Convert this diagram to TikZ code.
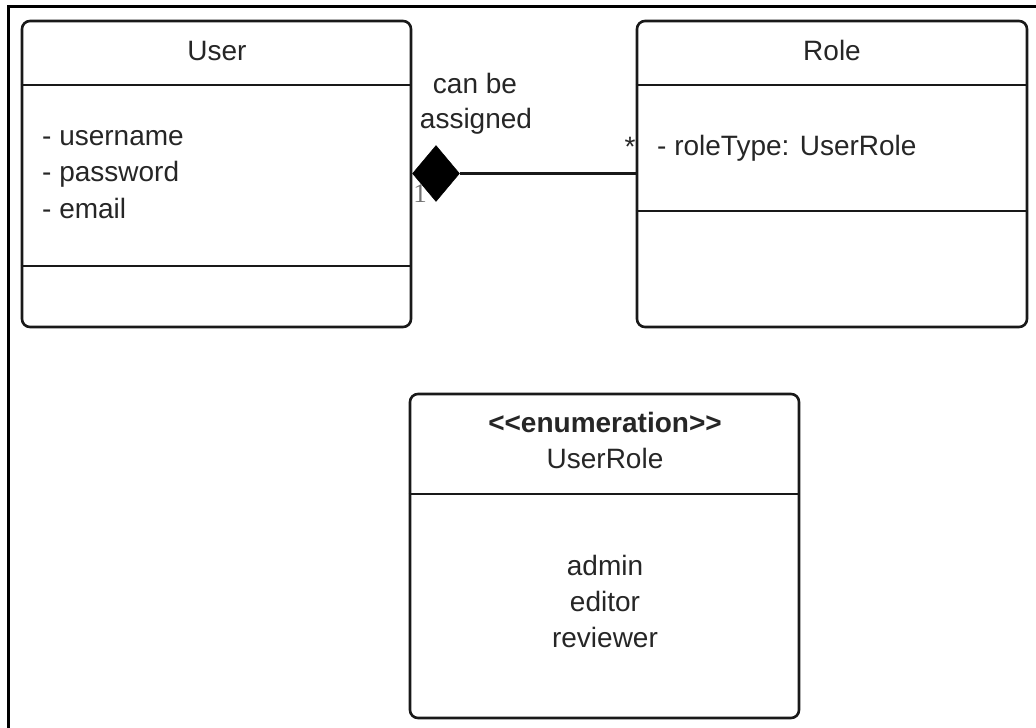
\documentclass[tikz,border=0pt]{standalone}
\usepackage{fontspec}
\setmainfont{Liberation Sans}
\newfontfamily\onefont{Liberation Serif}
\usetikzlibrary{shapes.geometric}
\definecolor{txt}{HTML}{262626}
\begin{document}
\begin{tikzpicture}[x=1pt,y=-1pt,
  box/.style={draw=black!90, line width=2.6pt, rounded corners=8pt, rectangle, inner sep=0pt},
  sep/.style={draw=black!90, line width=2.6pt},
  lbl/.style={font=\fontsize{28}{34}\selectfont, text=txt, inner sep=0pt},
  boldlbl/.style={font=\bfseries\fontsize{28}{34}\selectfont, text=txt, inner sep=0pt},
  mult/.style={font=\onefont\fontsize{27}{27}\selectfont, text=black!55, inner sep=0pt},
]
\useasboundingbox (0,0) rectangle (1036,728);
% outer frame (cropped)
\draw[line width=3pt] (8,728) -- (8,6) -- (1036,6);

% User class
\node[box, minimum width=389pt, minimum height=306pt] (user) at (216.5,174) {};
\draw[sep] (user.west |- 0,85) -- (user.east |- 0,85);
\draw[sep] (user.west |- 0,266) -- (user.east |- 0,266);
\node[lbl, anchor=base] (userT) at (217,60) {User};
\node[lbl, anchor=base west] (uA1) at (42,145) {- username};
\node[lbl, anchor=base west] (uA2) at (42,181.5) {- password};
\node[lbl, anchor=base west] (uA3) at (42,218) {- email};

% Role class
\node[box, minimum width=390pt, minimum height=306pt] (role) at (832,174) {};
\draw[sep] (role.west |- 0,85) -- (role.east |- 0,85);
\draw[sep] (role.west |- 0,211) -- (role.east |- 0,211);
\node[lbl, anchor=base] (roleT) at (832,60) {Role};
\node[lbl, anchor=base west] (rA1) at (657,155) {- roleType: UserRole};

% UserRole enumeration
\node[box, minimum width=389pt, minimum height=324pt] (enum) at (604.5,556) {};
\draw[sep] (enum.west |- 0,494) -- (enum.east |- 0,494);
\node[boldlbl, anchor=base] (enumS) at (605,432) {<{}<enumeration>{}>};
\node[lbl, anchor=base] (enumT) at (605,468) {UserRole};
\node[lbl, anchor=base] (e1) at (605,575) {admin};
\node[lbl, anchor=base] (e2) at (605,611) {editor};
\node[lbl, anchor=base] (e3) at (605,647) {reviewer};

% composition User <>-- Role
\node[diamond, fill=black, draw=black, line width=0.5pt, inner sep=0pt,
      minimum width=47pt, minimum height=56pt] (dia) at (436,173.5) {};
\draw[sep] (dia.east) -- (dia.east -| role.west);
\node[mult, anchor=base] (m1) at (420,202) {1};
\node[lbl, anchor=base] (m2) at (630,156) {*};
\node[lbl, anchor=base] (asg1) at (475,93) {can be};
\node[lbl, anchor=base] (asg2) at (476,128) {assigned};
\end{tikzpicture}
\end{document}
